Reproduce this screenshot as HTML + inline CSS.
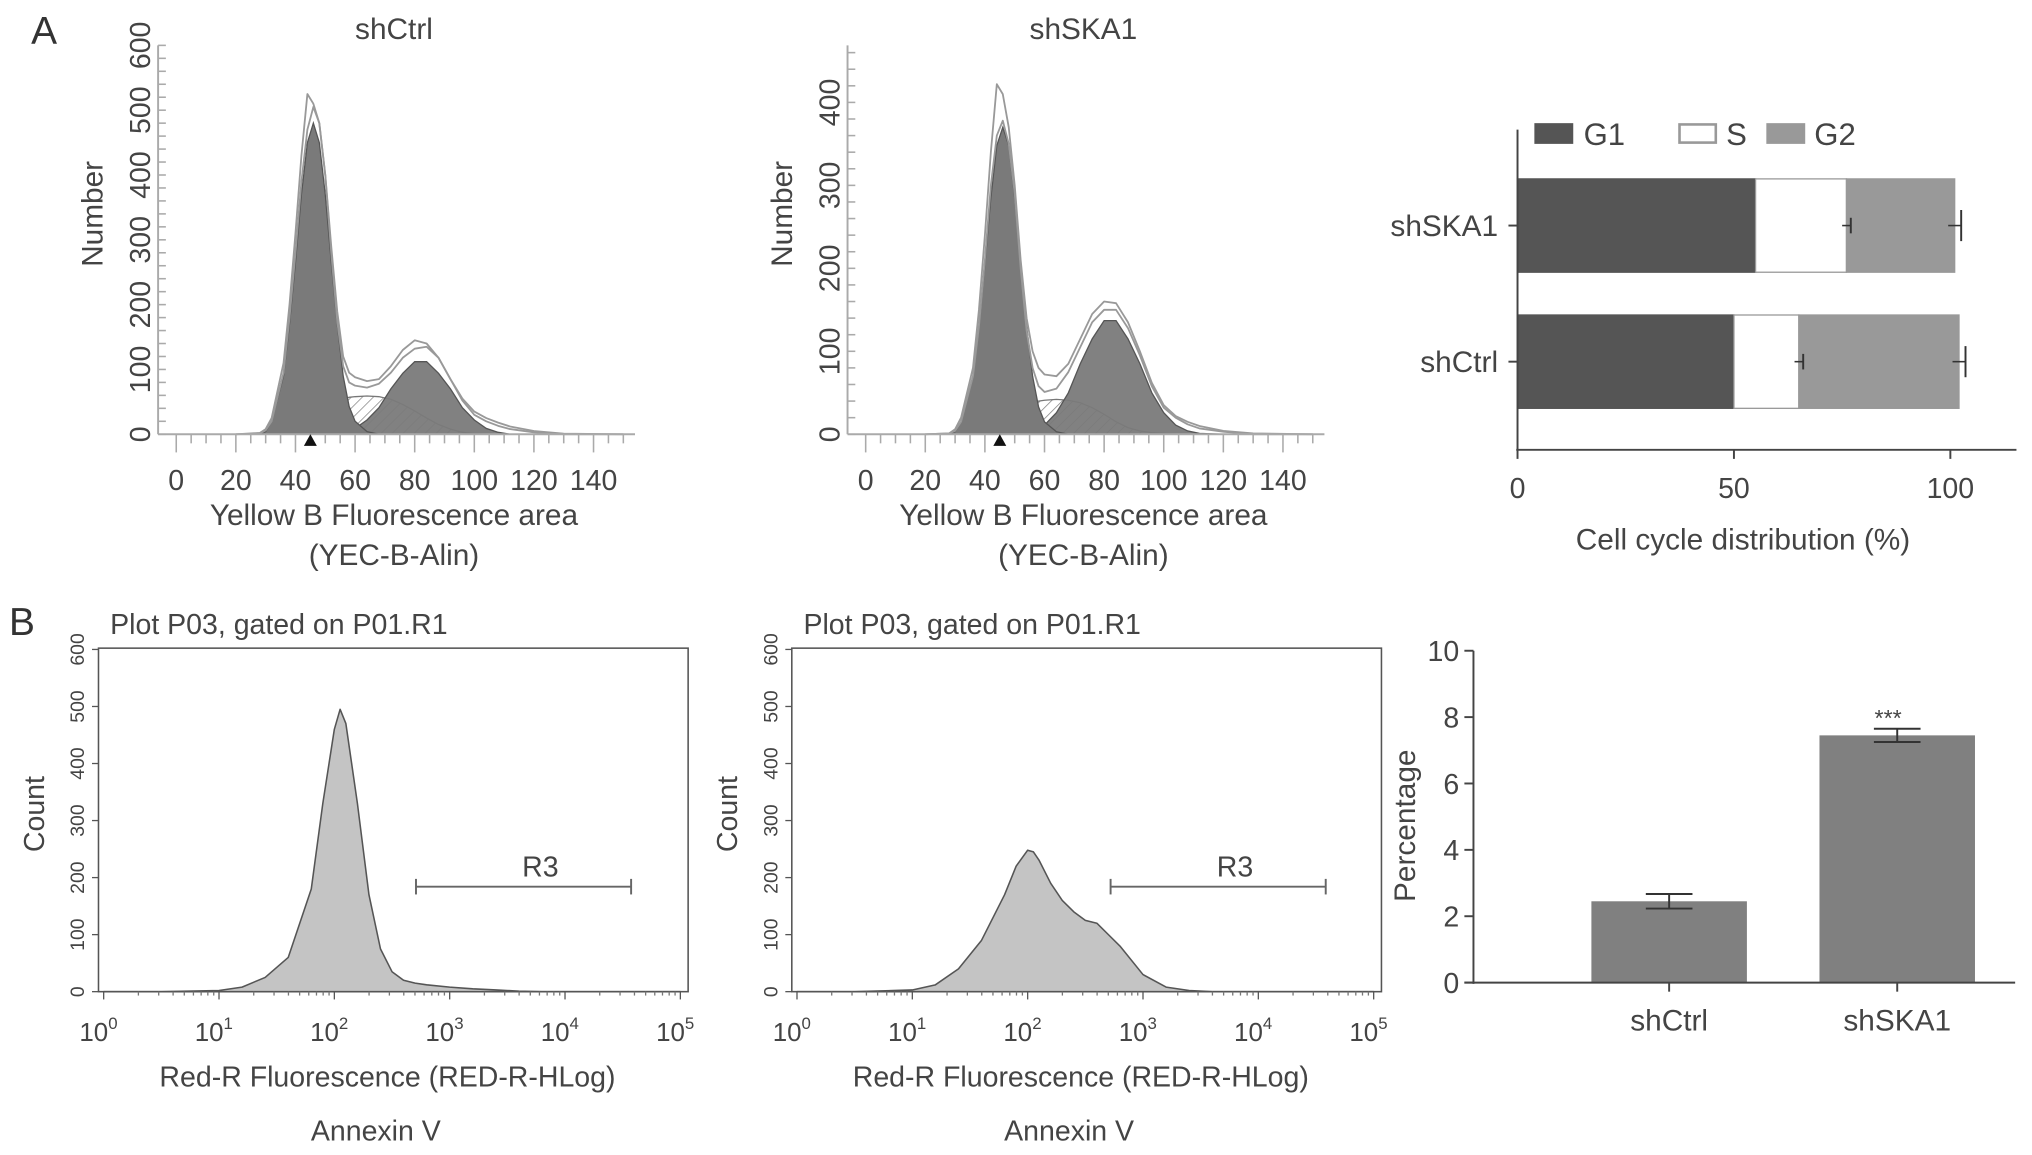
<!DOCTYPE html>
<html><head><meta charset="utf-8"><style>
html,body{margin:0;padding:0;background:#fff}
svg{display:block;font-family:"Liberation Sans",Arial,sans-serif}
</style></head><body>
<svg id="fig" width="2032" height="1155" viewBox="0 0 1568 891" preserveAspectRatio="none" xmlns="http://www.w3.org/2000/svg">
<defs><pattern id="hatch" width="6" height="6" patternUnits="userSpaceOnUse" patternTransform="rotate(45)"><rect width="6" height="6" fill="#fff"/><line x1="0" y1="0" x2="0" y2="6" stroke="#888" stroke-width="1.2"/></pattern></defs>
<text x="24" y="34" font-size="30" fill="#333">A</text>
<text x="7" y="490" font-size="30" fill="#333">B</text>
</svg>
<script>
// ---- Panel A histograms (DNA content) ----
const dnaX = [20,28,30,32,36,38,40,42,44,46,48,50,52,54,56,58,60,64,68,72,76,80,84,88,92,96,100,104,108,112,120,130,150];
const ctrlG1 = [0,0,4,20,90,170,265,370,450,480,450,370,265,170,90,43,20,4,0,0,0,0,0,0,0,0,0,0,0,0,0,0,0];
const ctrlS  = [0,0,0,0,0,2,4,8,14,20,28,36,44,50,54,57,58,59,58,54,46,36,25,15,8,3,1,0,0,0,0,0,0];
const ctrlG2 = [0,0,0,0,0,0,0,0,0,0,0,0,0,0,2,6,9,22,41,70,94,112,112,94,70,41,22,9,3,0,0,0,0];
const ctrlRaw1 = [0,2,8,25,110,200,310,430,525,510,480,400,290,190,120,95,88,82,85,105,130,145,140,118,85,55,35,25,18,12,5,1,0];
const ctrlRaw2 = [0,1,6,20,95,180,280,390,470,505,480,400,280,175,105,80,75,72,78,95,118,132,135,118,85,52,30,20,13,8,3,0,0];
const skaG1 = [0,0,3,15,70,130,205,285,348,370,348,285,205,130,70,33,15,3,0,0,0,0,0,0,0,0,0,0,0,0,0,0,0];
const skaS  = [0,0,0,0,0,2,4,8,12,16,22,27,32,36,38,40,41,42,41,38,32,24,15,8,4,2,1,0,0,0,0,0,0];
const skaG2 = [0,0,0,0,0,0,0,0,0,0,0,0,0,0,4,7,11,26,50,85,115,137,137,115,85,50,26,11,4,1,0,0,0];
const skaRaw1 = [0,1,6,20,80,150,240,340,422,410,370,300,210,140,100,80,72,70,85,115,145,160,158,135,100,62,35,22,15,10,4,1,0];
const skaRaw2 = [0,1,4,15,70,130,210,300,360,378,350,290,200,125,80,58,51,55,75,105,135,150,150,128,95,58,32,20,12,7,3,0,0];
const dnaXTicks = [0,20,40,60,80,100,120,140];
const ctrlYTicks = [0,100,200,300,400,500,600];
const skaYTicks = [0,100,200,300,400];
// ---- Cell cycle stacked bars ----
const ccGroups = ["shSKA1","shCtrl"];
const ccG1 = [55,50];
const ccS  = [21,15];
const ccG2 = [25,37];
const ccErrS = [1,1];
const ccErrG2 = [1.5,1.5];
const ccTicks = [0,50,100];
// ---- Panel B Annexin histograms ----
const annLog = [0,0.5,1,1.2,1.4,1.6,1.8,1.9,2.0,2.05,2.1,2.2,2.3,2.4,2.5,2.6,2.7,2.8,3.0,3.2,3.4,3.6,3.8,4.0,5];
const annCtrl = [0,0,2,8,25,60,180,330,460,495,470,330,170,75,35,20,15,12,8,5,3,1,0,0,0];
const annSka  = [0,0,3,12,40,90,170,220,248,245,230,190,160,140,125,120,100,80,30,8,2,0,0,0,0];
const annYTicks = [0,100,200,300,400,500,600];
const annDecades = [0,1,2,3,4,5];
// ---- Apoptosis bars ----
const apoGroups = ["shCtrl","shSKA1"];
const apoVals = [2.45,7.45];
const apoErr = [0.22,0.2];
const apoTicks = [0,2,4,6,8,10];

const svg = document.getElementById('fig');
const NS = 'http://www.w3.org/2000/svg';
function el(tag, attrs, parent){const e=document.createElementNS(NS,tag);for(const k in attrs)e.setAttribute(k,attrs[k]);(parent||svg).appendChild(e);return e;}
function txt(x,y,s,size,anchor,rot,parent){const t=el('text',{x:x,y:y,'font-size':size,fill:'#444','text-anchor':anchor||'middle'},parent);if(rot)t.setAttribute('transform','rotate('+rot+' '+x+' '+y+')');t.textContent=s;return t;}

function histA(cfg){
  const g = el('g',{});
  
  
  const sx = v => cfg.x0 + v*2.3;
  const sy = v => 335 - v*cfg.ppu;
  function pts(arr){return dnaX.map((x,i)=>sx(x)+','+sy(arr[i])).join(' ');}
  function area(arr){return sx(dnaX[0])+','+sy(0)+' '+pts(arr)+' '+sx(dnaX[dnaX.length-1])+','+sy(0);}
  const s = el('polygon',{points:area(cfg.S),fill:'url(#hatch)',stroke:'#777','stroke-width':1},g);
  
  
  const g2 = el('polygon',{points:area(cfg.G2),fill:'#7a7a7a',stroke:'#555','stroke-width':1,'fill-opacity':0.95},g);
  
  
  const g1 = el('polygon',{points:area(cfg.G1),fill:'#7a7a7a',stroke:'#555','stroke-width':1},g);
  
  
  [cfg.R1,cfg.R2].forEach((r,k)=>{
    const l = el('polyline',{points:pts(r),fill:'none',stroke:'#999','stroke-width':1.4,'stroke-linejoin':'round'},g);
    
    
  });
  el('line',{x1:cfg.x0-14,y1:35,x2:cfg.x0-14,y2:335,stroke:'#aaa','stroke-width':1.5},g);
  el('line',{x1:cfg.x0-14,y1:335,x2:cfg.x0+354,y2:335,stroke:'#aaa','stroke-width':1.5},g);
  for(let v=0; v<=cfg.ymax; v+=20){const y=sy(v);el('line',{x1:cfg.x0-14,y1:y,x2:cfg.x0-8,y2:y,stroke:'#aaa','stroke-width':1.2},g);}
  for(let v=0; v<=150; v+=5){const x=sx(v);el('line',{x1:x,y1:335,x2:x,y2:v%20==0?349:342,stroke:'#aaa','stroke-width':1.2},g);}
  cfg.yTicks.forEach(v=>{const t=txt(cfg.x0-26,sy(v),String(v),22,'middle',-90,g);t.setAttribute('dominant-baseline','middle');});
  dnaXTicks.forEach(v=>txt(sx(v),378,String(v),22,'middle',0,g));
  el('polygon',{points:(sx(45)-5)+',344 '+(sx(45)+5)+',344 '+sx(45)+',335',fill:'#111'},g);
  txt(cfg.x0+168,405,'Yellow B Fluorescence area',23,'middle',0,g);
  txt(cfg.x0+168,436,'(YEC-B-Alin)',23,'middle',0,g);
  txt(cfg.x0-63,165,'Number',23,'middle',-90,g).setAttribute('dominant-baseline','middle');
  txt(cfg.x0+168,30,cfg.title,23,'middle',0,g);
}
histA({name:'histogram-shctrl',x0:136,ppu:0.5,ymax:600,yTicks:ctrlYTicks,G1:ctrlG1,S:ctrlS,G2:ctrlG2,R1:ctrlRaw1,R2:ctrlRaw2,title:'shCtrl'});
histA({name:'histogram-shska1',x0:668,ppu:0.64,ymax:460,yTicks:skaYTicks,G1:skaG1,S:skaS,G2:skaG2,R1:skaRaw1,R2:skaRaw2,title:'shSKA1'});

// ---- stacked bar chart ----
(function(){
  const g = el('g',{});
  
  
  const sx = v => 1171 + v*3.34;
  const yc = [174,279];
  ccGroups.forEach((name,i)=>{
    const y0=yc[i]-36, h=72;
    const segs=[[0,ccG1[i],'#555','#555'],[ccG1[i],ccG1[i]+ccS[i],'#fff','#999'],[ccG1[i]+ccS[i],ccG1[i]+ccS[i]+ccG2[i],'#999','#999']];
    const names=['g1','s','g2'];
    segs.forEach((s,k)=>{
      const r=el('rect',{x:sx(s[0]),y:y0,width:sx(s[1])-sx(s[0]),height:h,fill:s[2],stroke:s[3],'stroke-width':1},g);
      
      
    });
    const e1=ccG1[i]+ccS[i], e2=e1+ccG2[i];
    [[e1,ccErrS[i]],[e2,ccErrG2[i]]].forEach(p=>{
      el('line',{x1:sx(p[0]-p[1]),y1:yc[i],x2:sx(p[0]+p[1]),y2:yc[i],stroke:'#333','stroke-width':1.2},g);
      el('line',{x1:sx(p[0]+p[1]),y1:yc[i]-(p[1]>1?12:6),x2:sx(p[0]+p[1]),y2:yc[i]+(p[1]>1?12:6),stroke:'#333','stroke-width':1.5},g);
    });
    el('line',{x1:1164,y1:yc[i],x2:1171,y2:yc[i],stroke:'#444','stroke-width':1.5},g);
    txt(1156,yc[i]+8,name,23,'end',0,g);
  });
  el('line',{x1:1171,y1:100,x2:1171,y2:348,stroke:'#444','stroke-width':1.5},g);
  el('line',{x1:1170,y1:347,x2:1556,y2:347,stroke:'#444','stroke-width':1.5},g);
  ccTicks.forEach(v=>{el('line',{x1:sx(v),y1:347,x2:sx(v),y2:354,stroke:'#444','stroke-width':1.5},g);txt(sx(v),384,String(v),22,'middle',0,g);});
  txt(1345,424,'Cell cycle distribution (%)',23,'middle',0,g);
  const leg=[['G1',1185,'#555','#555',1222],['S',1296,'#fff','#999',1332],['G2',1364,'#999','#999',1400]];
  leg.forEach(l=>{
    const r=el('rect',{x:l[1],y:96,width:28,height:14,fill:l[2],stroke:l[3],'stroke-width':2},g);
    
    
    txt(l[4],112,l[0],24,'start',0,g);
  });
})();

// ---- Annexin histograms ----
function histB(cfg){
  const g = el('g',{});
  
  
  const sx = v => cfg.x0 + 4 + v*89;
  const sy = v => 765 - v*0.44;
  el('rect',{x:cfg.x0,y:500,width:455,height:265,fill:'none',stroke:'#555','stroke-width':1.2},g);
  const p = sx(annLog[0])+','+sy(0)+' '+annLog.map((x,i)=>sx(x)+','+sy(cfg.vals[i])).join(' ')+' '+sx(annLog[annLog.length-1])+','+sy(0);
  const a = el('polygon',{points:p,fill:'#c4c4c4',stroke:'#555','stroke-width':1.2,'stroke-linejoin':'round'},g);
  
  
  annYTicks.forEach(v=>{el('line',{x1:cfg.x0-5,y1:sy(v),x2:cfg.x0,y2:sy(v),stroke:'#555'},g);txt(cfg.x0-15,sy(v),String(v),15,'middle',-90,g).setAttribute('dominant-baseline','middle');});
  annDecades.forEach(d=>{
    el('line',{x1:sx(d),y1:765,x2:sx(d),y2:771,stroke:'#555'},g);
    for(let m=2;m<10&&d<5;m++){const x=sx(d+Math.log10(m));el('line',{x1:x,y1:765,x2:x,y2:768,stroke:'#777'},g);}
    const t=txt(sx(d)-4,803,'10',20,'middle',0,g);
    const s=el('tspan',{dy:-9,'font-size':13},t);s.textContent=String(d);
  });
  const r3=el('g',{},g);
  
  
  el('line',{x1:cfg.r0,y1:684,x2:cfg.r0+166,y2:684,stroke:'#666','stroke-width':1.5},r3);
  el('line',{x1:cfg.r0,y1:678,x2:cfg.r0,y2:690,stroke:'#666','stroke-width':1.5},r3);
  el('line',{x1:cfg.r0+166,y1:678,x2:cfg.r0+166,y2:690,stroke:'#666','stroke-width':1.5},r3);
  txt(cfg.r0+96,676,'R3',22,'middle',0,r3);
  txt(cfg.x0+9,489,'Plot P03, gated on P01.R1',22,'start',0,g);
  txt(cfg.x0-48,628,'Count',22,'middle',-90,g).setAttribute('dominant-baseline','middle');
  txt(cfg.x0+223,838,'Red-R Fluorescence (RED-R-HLog)',22,'middle',0,g);
  txt(cfg.x0+214,880,'Annexin V',22,'middle',0,g);
}
histB({name:'annexin-shctrl',x0:76,vals:annCtrl,r0:321});
histB({name:'annexin-shska1',x0:611,vals:annSka,r0:857});

// ---- Apoptosis bar chart ----
(function(){
  const g = el('g',{});
  
  
  const sy = v => 758 - v*25.6;
  const xc=[1288,1464];
  apoGroups.forEach((n,i)=>{
    const b=el('rect',{x:xc[i]-60,y:sy(apoVals[i]),width:120,height:sy(0)-sy(apoVals[i]),fill:'#808080'},g);
    
    
    const hi=sy(apoVals[i]+apoErr[i]), lo=sy(apoVals[i]-apoErr[i]);
    el('line',{x1:xc[i],y1:hi,x2:xc[i],y2:lo,stroke:'#333','stroke-width':1.5},g);
    el('line',{x1:xc[i]-18,y1:hi,x2:xc[i]+18,y2:hi,stroke:'#333','stroke-width':1.5},g);
    el('line',{x1:xc[i]-18,y1:lo,x2:xc[i]+18,y2:lo,stroke:'#333','stroke-width':1.5},g);
    el('line',{x1:xc[i],y1:758,x2:xc[i],y2:765,stroke:'#444','stroke-width':1.5},g);
    txt(xc[i],795,n,23,'middle',0,g);
  });
  txt(xc[1]-7,sy(apoVals[1]+apoErr[1])-2,'***',18,'middle',0,g);
  el('line',{x1:1137,y1:502,x2:1137,y2:759,stroke:'#444','stroke-width':1.5},g);
  el('line',{x1:1130,y1:758,x2:1555,y2:758,stroke:'#444','stroke-width':1.5},g);
  apoTicks.forEach(v=>{el('line',{x1:1130,y1:sy(v),x2:1137,y2:sy(v),stroke:'#444','stroke-width':1.5},g);txt(1126,sy(v)+8,String(v),22,'end',0,g);});
  txt(1086,637,'Percentage',23,'middle',-90,g).setAttribute('dominant-baseline','middle');
})();
</script>
</body></html>
